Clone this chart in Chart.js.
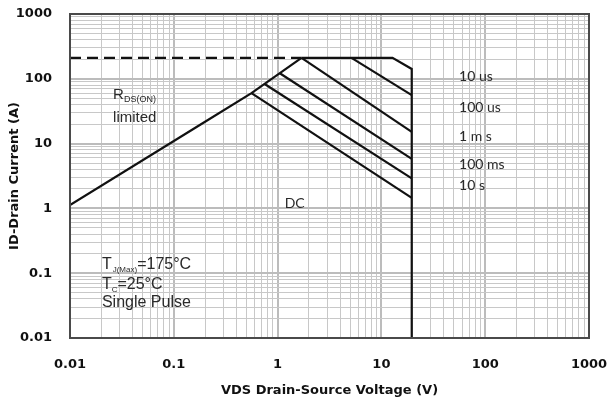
<!DOCTYPE html>
<html>
<head>
<meta charset="utf-8">
<script src="https://cdn.jsdelivr.net/npm/chart.js@4.4.1/dist/chart.umd.min.js"></script>
<style>
  html, body { margin: 0; padding: 0; background: #fff; }
  #wrap { width: 611px; height: 406px; }
</style>
</head>
<body>
<div id="wrap"><canvas id="soaChart" width="611" height="406"></canvas></div>
<script>
// tick labels on both axes (decades)
var voltTicks = [0.01, 0.1, 1, 10, 100, 1000];
var voltTickLabels = ["0.01", "0.1", "1", "10", "100", "1000"];
var currTicks = [0.01, 0.1, 1, 10, 100, 1000];
var currTickLabels = ["0.01", "0.1", "1", "10", "100", "1000"];

// Rds(on) limit line
var rdsV = [0.01, 0.178, 0.56, 1.70];
var rdsI = [1.13, 19.4, 60, 210];
// package current limit (dashed)
var pkgV = [0.01, 1.70];
var pkgI = [210, 210];
// outer envelope: top, corner and VDS max
var envV = [1.70, 12.8, 19.6, 19.6];
var envI = [210, 210, 142, 0.01];
// pulse lines
var us10V = [5.15, 19.6];   var us10I = [210, 56];
var us100V = [1.70, 19.6];  var us100I = [210, 15.2];
var ms1V = [1.05, 19.6];    var ms1I = [122, 5.8];
var ms100V = [0.75, 19.6];  var ms100I = [83, 2.9];
var s10V = [0.56, 19.6];    var s10I = [60, 1.45];

var pulseLabels = ["10 us", "100 us", "1 m s", "100 ms", "10 s"];

function pts(xs, ys) {
  var out = [];
  for (var i = 0; i < xs.length; i++) out.push({x: xs[i], y: ys[i]});
  return out;
}

function line(xs, ys, dash) {
  return {
    data: pts(xs, ys),
    showLine: true,
    borderColor: "#111",
    borderWidth: 2.2,
    borderDash: dash || [],
    pointRadius: 0,
    fill: false
  };
}

function decadeTicks(scale) {
  var ticks = [];
  var lo = Math.round(Math.log10(scale.min));
  var hi = Math.round(Math.log10(scale.max));
  for (var e = lo; e <= hi; e++) {
    for (var m = 1; m <= 9; m++) {
      if (e === hi && m > 1) break;
      ticks.push({value: m * Math.pow(10, e), major: m === 1});
    }
  }
  scale.ticks = ticks;
}

function labelFor(values, labels) {
  return function (v) {
    for (var i = 0; i < values.length; i++) {
      if (Math.abs(v - values[i]) / values[i] < 1e-6) return labels[i];
    }
    return "";
  };
}

function gridColor(ctx) {
  return ctx.tick && ctx.tick.major ? "#bcbcbc" : "#c8c8c8";
}
function gridWidth(ctx) {
  return ctx.tick && ctx.tick.major ? 2 : 1;
}

var axisFont = {family: "DejaVu Sans", size: 13, weight: "bold"};

var notes = {
  id: "notes",
  afterDatasetsDraw: function (chart) {
    var c = chart.ctx, xs = chart.scales.x, ys = chart.scales.y;
    function px(v) { return xs.getPixelForValue(v); }
    function py(v) { return ys.getPixelForValue(v); }
    c.save();
    c.fillStyle = "#2a2a2a";
    c.textBaseline = "middle";
    c.textAlign = "left";

    // Rds(on) limited
    c.font = "15px 'Liberation Sans'";
    c.fillText("R", px(0.026), py(56));
    var rw = c.measureText("R").width;
    c.font = "9px 'Liberation Sans'";
    c.fillText("DS(ON)", px(0.026) + rw, py(56) + 4);
    c.font = "15px 'Liberation Sans'";
    c.fillText("limited", px(0.026), py(24.8));

    // conditions
    c.font = "16px 'Liberation Sans'";
    var x0 = px(0.0203);
    c.fillText("T", x0, py(0.134));
    var tw = c.measureText("T").width;
    c.font = "8px 'Liberation Sans'";
    c.fillText("J(Max)", x0 + tw + 1, py(0.134) + 5);
    var sw = c.measureText("J(Max)").width;
    c.font = "16px 'Liberation Sans'";
    c.fillText("=175\u00B0C", x0 + tw + sw + 1, py(0.134));
    c.fillText("T", x0, py(0.0658));
    c.font = "8px 'Liberation Sans'";
    c.fillText("C", x0 + tw, py(0.0658) + 5);
    var cw = c.measureText("C").width;
    c.font = "16px 'Liberation Sans'";
    c.fillText("=25\u00B0C", x0 + tw + cw, py(0.0658));
    c.fillText("Single Pulse", x0, py(0.0347));

    // pulse width labels and DC
    c.font = "14px Lato";
    var labelI = [107, 36.7, 13.1, 4.68, 2.22];
    for (var i = 0; i < pulseLabels.length; i++) {
      c.fillText(pulseLabels[i], px(56), py(labelI[i]));
    }
    c.fillText("DC", px(1.17), py(1.21));

    // plot frame
    var a = chart.chartArea;
    c.strokeStyle = "#4a4a4a";
    c.lineWidth = 2;
    c.strokeRect(a.left, a.top, a.right - a.left, a.bottom - a.top);
    c.restore();
  }
};

var ctx = document.getElementById("soaChart");
var soaChart = new Chart(ctx, {
  type: "scatter",
  data: {
    datasets: [
      line(pkgV, pkgI, [11, 6]),
      line(rdsV, rdsI),
      line(envV, envI),
      line(us10V, us10I),
      line(us100V, us100I),
      line(ms1V, ms1I),
      line(ms100V, ms100I),
      line(s10V, s10I)
    ]
  },
  plugins: [notes],
  options: {
    responsive: false,
    animation: false,
    layout: {padding: {top: 14, right: 22, left: 0, bottom: 0}},
    plugins: {legend: {display: false}, tooltip: {enabled: false}},
    scales: {
      x: {
        type: "logarithmic",
        min: voltTicks[0],
        max: voltTicks[voltTicks.length - 1],
        afterBuildTicks: decadeTicks,
        afterFit: function (s) {
          s.height = 68; s.paddingLeft = 0; s.paddingRight = 0;
        },
        border: {display: false},
        grid: {color: gridColor, lineWidth: gridWidth, drawTicks: false},
        ticks: {
          callback: labelFor(voltTicks, voltTickLabels),
          autoSkip: false, maxRotation: 0, padding: 19,
          color: "#111", font: axisFont
        },
        title: {
          display: true, text: "VDS Drain-Source Voltage (V)",
          color: "#111", font: axisFont, padding: {top: 0, bottom: 8}
        }
      },
      y: {
        type: "logarithmic",
        min: currTicks[0],
        max: currTicks[currTicks.length - 1],
        afterBuildTicks: decadeTicks,
        afterFit: function (s) {
          s.width = 70; s.paddingTop = 0; s.paddingBottom = 0;
        },
        border: {display: false},
        grid: {color: gridColor, lineWidth: gridWidth, drawTicks: false},
        ticks: {
          callback: labelFor(currTicks, currTickLabels),
          autoSkip: false, padding: 18,
          color: "#111", font: axisFont
        },
        title: {
          display: true, text: "ID-Drain Current (A)",
          color: "#111", font: axisFont, padding: {top: 7, bottom: 0}
        }
      }
    }
  }
});
</script>
</body>
</html>
